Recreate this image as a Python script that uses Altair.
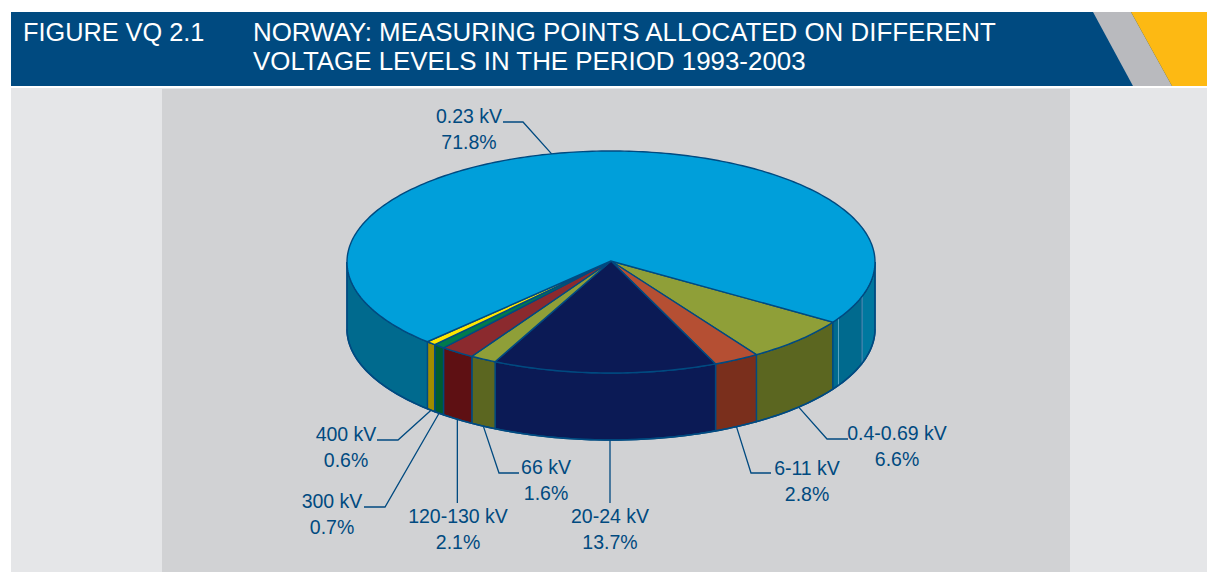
import math
import altair as alt

# Shares of measuring points by voltage level, clockwise from the 0.4-0.69 kV slice
levels = ["0.4-0.69 kV", "6-11 kV", "20-24 kV", "66 kV", "120-130 kV", "300 kV", "400 kV", "0.23 kV"]
shares = [6.6, 2.8, 13.7, 1.6, 2.1, 0.7, 0.6, 71.8]
top_colors = ["#8f9f38", "#b54f33", "#0b1a55", "#8f9f38", "#8b2a2e", "#007a4c", "#ffe600", "#009fda"]
wall_colors = ["#5b6620", "#7a2f1c", "#0b1a55", "#5b6620", "#5e1013", "#005c30", "#a08c00", "#006a8e"]

title_left = "FIGURE VQ 2.1"
title_lines = ["NORWAY: MEASURING POINTS ALLOCATED ON DIFFERENT",
               "VOLTAGE LEVELS IN THE PERIOD 1993-2003"]

W, H = 1207, 572
NAVY = "#004a80"
CX, CY, RX, RY, DEPTH = 611, 262, 264, 111, 67
START_DEG = 32.8


def rim(t, drop=0.0):
    r = math.radians(t)
    return [CX + RX * math.cos(r), CY + RY * math.sin(r) + drop]


def arc(t0, t1, drop=0.0):
    n = max(2, int(abs(t1 - t0)) + 1)
    return [rim(t0 + (t1 - t0) * i / n, drop) for i in range(n + 1)]


def polygon(points, fill, stroke="none", width=0):
    return {"type": "Feature",
            "geometry": {"type": "Polygon", "coordinates": [points + [points[0]]]},
            "properties": {"fill": fill, "stroke": stroke, "sw": width}}


def polyline(points, stroke=NAVY, width=1.3):
    return {"type": "Feature",
            "geometry": {"type": "LineString", "coordinates": points},
            "properties": {"stroke": stroke, "sw": width}}


def box(x0, y0, x1, y1):
    return [[x0, y0], [x1, y0], [x1, y1], [x0, y1]]


def wall(t0, t1, fill):
    return polygon(arc(t0, t1) + arc(t1, t0, DEPTH), fill, NAVY, 1.4)


# Slice angles follow the shares directly
total = sum(shares)
edges = [START_DEG]
for s in shares:
    edges.append(edges[-1] + s / total * 360)
mids = [(a + b) / 2 for a, b in zip(edges, edges[1:])]

backdrop = [
    polygon(box(11, 88, W, H), "#e5e6e8"),
    polygon(box(162, 89, 1070, H), "#d1d2d4"),
    polygon(box(11, 12, W, 86), NAVY),
    polygon([[1093, 12], [1131, 12], [1172, 86], [1133, 86]], "#b9babe"),
    polygon([[1131, 12], [W, 12], [W, 86], [1172, 86]], "#fdb913"),
]

# Side walls: only the front half of the rim is visible
walls = [wall(edges[i], edges[i + 1], wall_colors[i]) for i in range(7)]
walls.append(wall(edges[7], 180, wall_colors[7]))
walls.append(wall(18, edges[0], wall_colors[7]))
walls.append(wall(0, 18, "#00789f"))

facets = [polyline([rim(t), rim(t, DEPTH)], "#5aa6c4", 1.0) for t in (18, 30.5)]
facets.append(polyline(arc(0, 180, DEPTH), NAVY, 1.6))
facets.append(polyline([rim(0), rim(0, DEPTH)], NAVY, 1.4))
facets.append(polyline([rim(180), rim(180, DEPTH)], NAVY, 1.4))

tops = [polygon([[CX, CY - 1]] + arc(edges[i], edges[i + 1]), top_colors[i], NAVY, 1.4)
        for i in range(len(shares))]

# Leader lines run from the outer rim to a label elbow
attach = [rim(mids[i], DEPTH) for i in range(7)]
attach[2] = [610, 440]
leaders = [
    polyline([attach[0], [827, 439], [848, 439]]),
    polyline([attach[1], [751, 473], [771, 473]]),
    polyline([attach[2], [610, 503]]),
    polyline([attach[3], [499, 473], [519, 473]]),
    polyline([attach[4], [attach[4][0], 503]]),
    polyline([attach[5], [385, 507], [364, 507]]),
    polyline([attach[6], [398, 440], [377, 440]]),
    polyline([rim(257), [523, 122], [503, 122]]),
]


def shapes(features):
    return alt.Chart(alt.InlineData(
        values={"type": "FeatureCollection", "features": features},
        format=alt.DataFormat(property="features", type="json"))
    )


PROJ = alt.Projection(type="identity", scale=1, translate=[0, 0])


def filled_layer(features):
    return shapes(features).mark_geoshape().encode(
        fill=alt.Fill("properties.fill:N", scale=None),
        stroke=alt.Stroke("properties.stroke:N", scale=None),
        strokeWidth=alt.StrokeWidth("properties.sw:Q", scale=None),
    ).project(**PROJ.to_dict())


def line_layer(features):
    return shapes(features).mark_geoshape(filled=False, fill=None).encode(
        stroke=alt.Stroke("properties.stroke:N", scale=None),
        strokeWidth=alt.StrokeWidth("properties.sw:Q", scale=None),
    ).project(**PROJ.to_dict())


label_spots = [(897, 434), (807, 469), (610, 517), (546, 468),
               (458, 517), (332, 502), (346, 435), (469, 117)]
label_rows = []
for name, share, (x, y) in zip(levels, shares, label_spots):
    label_rows.append({"t": name, "x": x, "y": y})
    label_rows.append({"t": f"{share}%", "x": x, "y": y + 26})

labels = alt.Chart(alt.Data(values=label_rows)).mark_text(
    font="Liberation Sans", fontSize=19.5, color=NAVY, align="center", baseline="middle"
).encode(
    x=alt.X("x:Q", scale=None, axis=None),
    y=alt.Y("y:Q", scale=None, axis=None),
    text="t:N",
)

text_rows = [{"t": title_left, "x": 23, "y": 41, "s": 25.3}] + [
    {"t": line, "x": 253, "y": 41 + 29 * i, "s": 25.9} for i, line in enumerate(title_lines)
]
header = alt.Chart(alt.Data(values=text_rows)).mark_text(
    font="Liberation Sans", color="#ffffff", align="left", baseline="alphabetic"
).encode(
    x=alt.X("x:Q", scale=None, axis=None),
    y=alt.Y("y:Q", scale=None, axis=None),
    size=alt.Size("s:Q", scale=None),
    text="t:N",
)

chart = alt.layer(
    filled_layer(backdrop),
    filled_layer(walls),
    line_layer(facets),
    filled_layer(tops),
    line_layer(leaders),
    labels,
    header,
).properties(
    width=W, height=H, padding=0, background="#ffffff",
    autosize=alt.AutoSizeParams(type="none"),
).configure_view(stroke=None)

chart.save("out.html", embed_options={"renderer": "svg", "actions": False})
